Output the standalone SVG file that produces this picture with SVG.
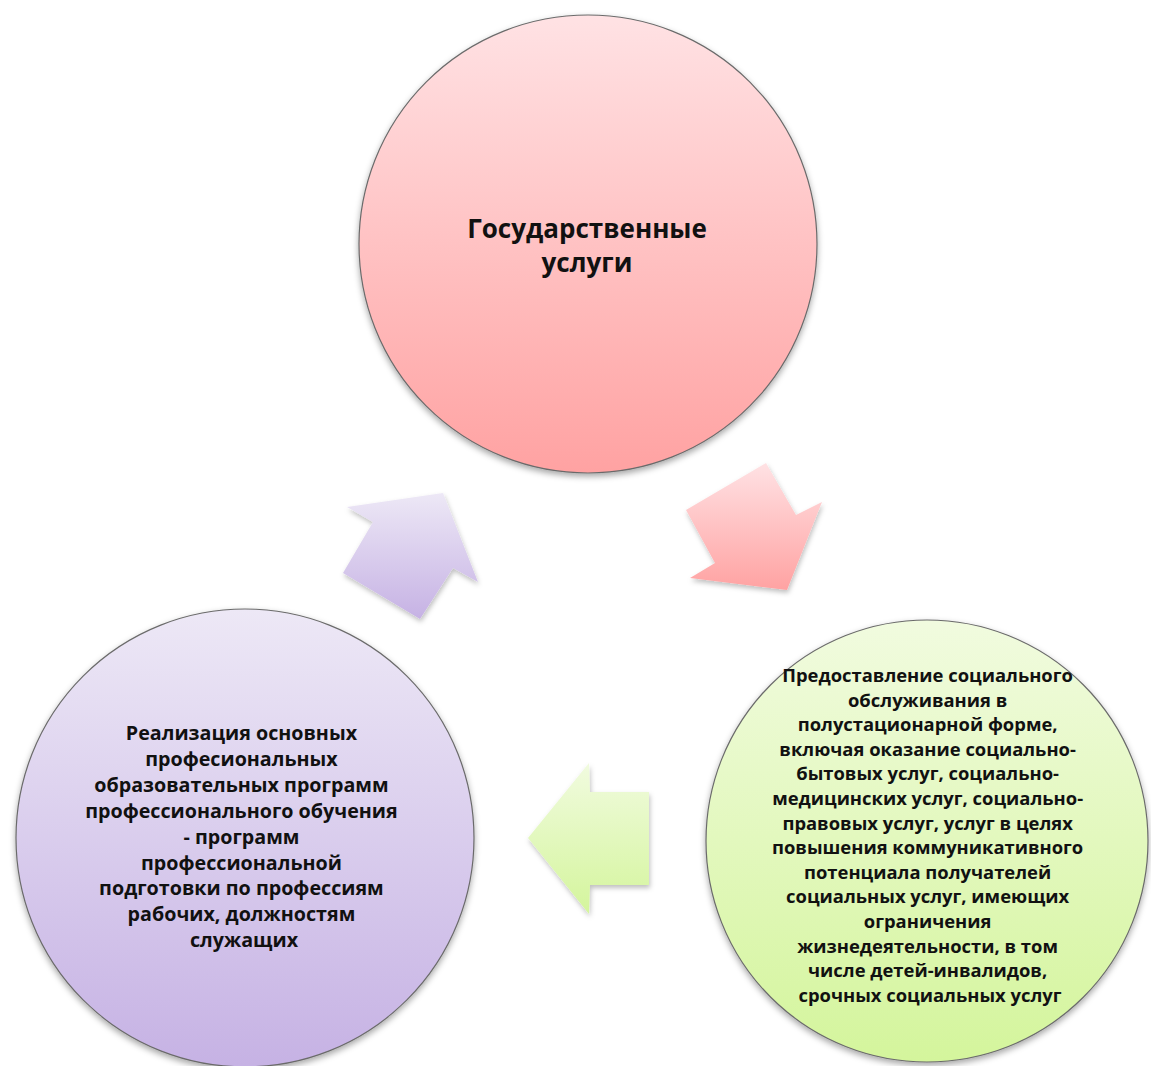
<svg xmlns="http://www.w3.org/2000/svg" width="1151" height="1066" viewBox="0 0 1151 1066">
  <defs>
    <linearGradient id="gPink" x1="0" y1="0" x2="0" y2="1">
      <stop offset="0" stop-color="#ffe2e4"/>
      <stop offset="1" stop-color="#ffa2a2"/>
    </linearGradient>
    <linearGradient id="gGreen" x1="0" y1="0" x2="0" y2="1">
      <stop offset="0" stop-color="#f1fbdf"/>
      <stop offset="1" stop-color="#d4f59c"/>
    </linearGradient>
    <linearGradient id="gLav" x1="0" y1="0" x2="0" y2="1">
      <stop offset="0" stop-color="#ede8f6"/>
      <stop offset="1" stop-color="#c6b2e4"/>
    </linearGradient>
    <filter id="shadow" x="-10%" y="-10%" width="120%" height="125%">
      <feDropShadow dx="0" dy="3" stdDeviation="3" flood-color="#000" flood-opacity="0.35"/>
    </filter>
    <filter id="ashadow" x="-10%" y="-10%" width="125%" height="125%">
      <feDropShadow dx="1" dy="3" stdDeviation="2.5" flood-color="#000" flood-opacity="0.25"/>
    </filter>
  </defs>
  <style>
    .circle { stroke: #6b6b6b; stroke-width: 1.2; filter: url(#shadow); }
    .arrow { filter: url(#ashadow); }
    .lbl { font-family: "Open Sans", "Liberation Sans", sans-serif; font-weight: 700; fill: #111; text-anchor: middle; }
    .title { font-size: 26px; }
    .rt { font-size: 18.4px; }
    .lt { font-size: 19.7px; }
  </style>
  <rect width="1151" height="1066" fill="#ffffff"/>

  <g id="connectors">
    <polygon class="arrow" fill="url(#gLav)" points="347,507 443,493 478,582 453,568 420,619 343,573 373,522"/>
    <polygon class="arrow" fill="url(#gPink)" points="766,463 796,515 822,502 787,590 690,578 715,563 686,510"/>
    <polygon class="arrow" fill="url(#gGreen)" points="528,838 589,763 590,792 649,792 649,885 590,885 589,914"/>
  </g>

  <g id="node-top">
    <circle class="circle" cx="588" cy="244" r="229" fill="url(#gPink)"/>
    <text class="lbl title" x="587" y="238">Государственные</text>
    <text class="lbl title" x="587" y="272">услуги</text>
  </g>

  <g id="node-right">
    <circle class="circle" cx="927" cy="841" r="221" fill="url(#gGreen)"/>
    <text class="lbl rt" x="930">
      <tspan x="930" y="682">Предоставление социального</tspan>
      <tspan x="930" y="706.6">обслуживания в</tspan>
      <tspan x="930" y="731.2">полустационарной форме,</tspan>
      <tspan x="930" y="755.8">включая оказание социально-</tspan>
      <tspan x="930" y="780.4">бытовых услуг, социально-</tspan>
      <tspan x="930" y="805">медицинских услуг, социально-</tspan>
      <tspan x="930" y="829.6">правовых услуг, услуг в целях</tspan>
      <tspan x="930" y="854.2">повышения коммуникативного</tspan>
      <tspan x="930" y="878.8">потенциала получателей</tspan>
      <tspan x="930" y="903.4">социальных услуг, имеющих</tspan>
      <tspan x="930" y="928">ограничения</tspan>
      <tspan x="930" y="952.6">жизнедеятельности, в том</tspan>
      <tspan x="930" y="977.2">числе детей-инвалидов,</tspan>
      <tspan x="930" y="1001.8">срочных социальных услуг</tspan>
    </text>
  </g>

  <g id="node-left">
    <circle class="circle" cx="245" cy="838" r="229" fill="url(#gLav)"/>
    <text class="lbl lt" x="244">
      <tspan x="244" y="740">Реализация основных</tspan>
      <tspan x="244" y="765.9">професиональных</tspan>
      <tspan x="244" y="791.8">образовательных программ</tspan>
      <tspan x="244" y="817.7">профессионального обучения</tspan>
      <tspan x="244" y="843.6">- программ</tspan>
      <tspan x="244" y="869.5">профессиональной</tspan>
      <tspan x="244" y="895.4">подготовки по профессиям</tspan>
      <tspan x="244" y="921.3">рабочих, должностям</tspan>
      <tspan x="244" y="947.2">служащих</tspan>
    </text>
  </g>
</svg>
